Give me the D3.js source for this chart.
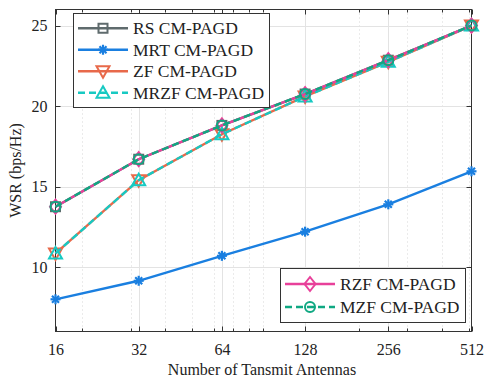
<!DOCTYPE html>
<html><head><meta charset="utf-8">
<script src="https://cdn.jsdelivr.net/npm/d3@7"></script>
<style>body{margin:0;background:#fff}svg{display:block}text{font-family:"Liberation Serif","Times New Roman",serif;fill:#222}</style>
</head><body><svg id="c" width="484" height="379"></svg>
<script>
const antennas = [16, 32, 64, 128, 256, 512];
const xTickLabels = ["16", "32", "64", "128", "256", "512"];
const yTicks = [10, 15, 20, 25];
const rsValues   = [13.75, 16.7, 18.8, 20.75, 22.85, 25.0];
const mrtValues  = [8.0, 9.15, 10.7, 12.2, 13.9, 15.95];
const zfValues   = [10.85, 15.4, 18.25, 20.6, 22.75, 25.0];
const mrzfValues = [10.85, 15.4, 18.25, 20.6, 22.75, 25.0];
const rzfValues  = [13.75, 16.7, 18.8, 20.75, 22.85, 25.0];
const mzfValues  = [13.75, 16.7, 18.8, 20.75, 22.85, 25.0];
const seriesNames = ["RS CM-PAGD","MRT CM-PAGD","ZF CM-PAGD","MRZF CM-PAGD","RZF CM-PAGD","MZF CM-PAGD"];

const series = [
  {name: seriesNames[0], v: rsValues,   color: "#5f6b6d", dash: null,  marker: "square"},
  {name: seriesNames[1], v: mrtValues,  color: "#1a7fe0", dash: null,  marker: "asterisk"},
  {name: seriesNames[2], v: zfValues,   color: "#e8694a", dash: null,  marker: "tridown"},
  {name: seriesNames[3], v: mrzfValues, color: "#17c9c2", dash: "7,4", marker: "triup"},
  {name: seriesNames[4], v: rzfValues,  color: "#e8409a", dash: null,  marker: "diamond"},
  {name: seriesNames[5], v: mzfValues,  color: "#0fa882", dash: "7,4", marker: "circle"}
];

const svg = d3.select("#c");
const L = 55.5, R = 471.5, T = 9.5, B = 331.5;
const x = d3.scaleLog().base(2).domain([16, 512]).range([L, R]);
const y = d3.scaleLinear().domain([6, 26]).range([B, T]);

// grid
const minor = [];
[10,100].forEach(d => { for (let k=2;k<=9;k++){ const v=k*d; if (v>16 && v<512 && !antennas.includes(v)) minor.push(v);} });
[200,300,400,500].forEach(v=>{ if(!minor.includes(v)) minor.push(v); });
const g = svg.append("g");
g.selectAll(".mg").data(minor).enter().append("line")
  .attr("x1", d=>Math.round(x(d))+0.5).attr("x2", d=>Math.round(x(d))+0.5).attr("y1", T).attr("y2", B)
  .attr("stroke", "#d6d6d6").attr("stroke-width", 1).attr("stroke-dasharray", "1,3");
g.selectAll(".gx").data(antennas.slice(1,-1)).enter().append("line")
  .attr("x1", d=>Math.round(x(d))+0.5).attr("x2", d=>Math.round(x(d))+0.5).attr("y1", T).attr("y2", B)
  .attr("stroke", "#e3e3e3").attr("stroke-width", 1);
g.selectAll(".gy").data(yTicks).enter().append("line")
  .attr("y1", d=>Math.round(y(d))+0.5).attr("y2", d=>Math.round(y(d))+0.5).attr("x1", L).attr("x2", R)
  .attr("stroke", "#e3e3e3").attr("stroke-width", 1);

// axes
const xAxis = d3.axisBottom(x).tickValues(antennas).tickFormat((d,i)=>xTickLabels[i]).tickSize(0).tickPadding(12);
const yAxis = d3.axisLeft(y).tickValues(yTicks).tickSize(0).tickPadding(8);
const gx = svg.append("g").attr("transform", `translate(0,${B})`).call(xAxis);
const gy = svg.append("g").attr("transform", `translate(${L},0)`).call(yAxis);
[gx, gy].forEach(a => { a.select(".domain").remove(); a.selectAll("text").style("font-family","Liberation Serif, serif").style("font-size","16px").attr("fill","#222"); });

// inward ticks
const tk = svg.append("g").attr("stroke", "#333").attr("stroke-width", 1);
antennas.forEach(v => { const px=Math.round(x(v))+0.5; tk.append("line").attr("x1",px).attr("x2",px).attr("y1",B).attr("y2",B-5); tk.append("line").attr("x1",px).attr("x2",px).attr("y1",T).attr("y2",T+5); });
minor.forEach(v => { const px=Math.round(x(v))+0.5; tk.append("line").attr("x1",px).attr("x2",px).attr("y1",B).attr("y2",B-3); tk.append("line").attr("x1",px).attr("x2",px).attr("y1",T).attr("y2",T+3); });
yTicks.forEach(v => { const py=Math.round(y(v))+0.5; tk.append("line").attr("x1",L).attr("x2",L+5).attr("y1",py).attr("y2",py); tk.append("line").attr("x1",R).attr("x2",R-5).attr("y1",py).attr("y2",py); });
svg.append("rect").attr("x", L).attr("y", T).attr("width", R-L).attr("height", B-T).attr("fill","none").attr("stroke","#333").attr("stroke-width",1);

// markers
function drawMarker(sel, type, cx, cy, color) {
  const s = 5.5;
  if (type === "square") sel.append("rect").attr("x",cx-s+1).attr("y",cy-s+1).attr("width",2*s-2).attr("height",2*s-2).attr("fill","none").attr("stroke",color).attr("stroke-width",2);
  else if (type === "circle") sel.append("circle").attr("cx",cx).attr("cy",cy).attr("r",s-0.5).attr("fill","none").attr("stroke",color).attr("stroke-width",2);
  else if (type === "diamond") sel.append("path").attr("d",`M${cx},${cy-s-1.5}L${cx+s},${cy}L${cx},${cy+s+1.5}L${cx-s},${cy}Z`).attr("fill","none").attr("stroke",color).attr("stroke-width",2);
  else if (type === "triup") sel.append("path").attr("d",`M${cx},${cy-s-1}L${cx+s+1},${cy+s-0.5}L${cx-s-1},${cy+s-0.5}Z`).attr("fill","none").attr("stroke",color).attr("stroke-width",2);
  else if (type === "tridown") sel.append("path").attr("d",`M${cx},${cy+s+1}L${cx+s+1},${cy-s+0.5}L${cx-s-1},${cy-s+0.5}Z`).attr("fill","none").attr("stroke",color).attr("stroke-width",2);
  else if (type === "asterisk") {
    const r = 5;
    const p = [[0,-r,0,r],[-r,0,r,0],[-r*0.7,-r*0.7,r*0.7,r*0.7],[-r*0.7,r*0.7,r*0.7,-r*0.7]];
    p.forEach(q => sel.append("line").attr("x1",cx+q[0]).attr("y1",cy+q[1]).attr("x2",cx+q[2]).attr("y2",cy+q[3]).attr("stroke",color).attr("stroke-width",2.2));
  }
}

const line = d3.line().x((d,i)=>x(antennas[i])).y(d=>y(d));
const plot = svg.append("g");
series.forEach(s => {
  const gg = plot.append("g");
  gg.append("path").attr("d", line(s.v)).attr("fill","none").attr("stroke", s.color).attr("stroke-width", 2.4).attr("stroke-dasharray", s.dash);
  s.v.forEach((v,i) => drawMarker(gg, s.marker, x(antennas[i]), y(v), s.color));
});

// legends
function legend(items, bx, by, w, rowH) {
  const lg = svg.append("g");
  lg.append("rect").attr("x", bx+0.5).attr("y", by+0.5).attr("width", w).attr("height", items.length*rowH + 8).attr("fill","#fff").attr("stroke","#333").attr("stroke-width",1);
  items.forEach((s, i) => {
    const cy = by + 4 + rowH*(i+0.5) + 0.5;
    lg.append("line").attr("x1", bx+5).attr("x2", bx+55).attr("y1", cy).attr("y2", cy).attr("stroke", s.color).attr("stroke-width", 2.4).attr("stroke-dasharray", s.dash);
    drawMarker(lg, s.marker, bx+30, cy, s.color);
    lg.append("text").attr("x", bx+60).attr("y", cy+6).style("font-size","17.5px").text(s.name);
  });
}
legend(series.slice(0,4), 73, 13, 196, 21.5);
legend(series.slice(4), 280, 268, 185, 23);

// labels
svg.append("text").attr("x", 262).attr("y", 375).attr("text-anchor","middle").style("font-size","16px").text("Number of Tansmit Antennas");
svg.append("text").attr("transform", `translate(21,${(T+B)/2}) rotate(-90)`).attr("text-anchor","middle").style("font-size","16px").text("WSR (bps/Hz)");
</script></body></html>
